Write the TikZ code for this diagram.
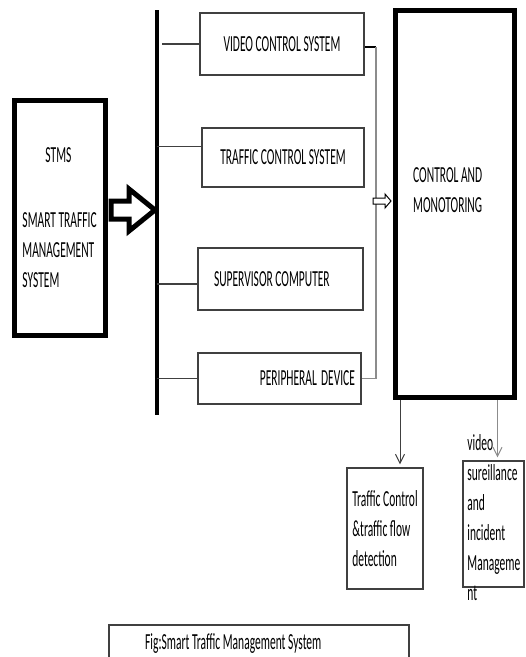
\documentclass[tikz,border=0pt]{standalone}
\usepackage{fontspec}
\setmainfont{Carlito}[FakeStretch=0.5]
\usetikzlibrary{arrows.meta, positioning, calc}
\colorlet{boxline}{black!75}
\colorlet{wireGray}{black!45}

\begin{document}
\begin{tikzpicture}[
    x=1pt, y=-1pt,
    font=\fontsize{23}{30}\selectfont,
    box/.style={draw=boxline, line width=1.5pt, inner sep=0pt},
    heavybox/.style={draw=black, line width=5pt, inner sep=0pt},
    lbl/.style={inner sep=0pt, align=left},
    link/.style={draw=boxline, line width=1.5pt},
    bus/.style={line width=4pt, black},
    wire/.style={draw=wireGray, line width=1.5pt},
    downarrow/.style={line width=1pt, shorten >=3pt,
                      -{Straight Barb[length=9pt, width=9pt, line width=1pt]}},
]
\useasboundingbox (0,0) rectangle (526,657);
\clip (0,0) rectangle (526,657);

% Source
\node[heavybox, minimum width=91, minimum height=235, text width=75,
      inner xsep=8, align=left] (stms) at (60,218)
    {\spaceskip=0pt\hspace*{23pt}STMS\\[35pt]SMART TRAFFIC\\MANAGEMENT\\SYSTEM};

% Bus and subsystems
\coordinate (bustop) at (157,10);
\coordinate (busbot) at (157,415);
\draw[bus] (bustop) -- (busbot);

\node[box, minimum width=164, minimum height=62] (video) at (282,44)
    {VIDEO CONTROL SYSTEM};
\node[box, minimum width=162, minimum height=59] (traffic) at (283,157.5)
    {TRAFFIC CONTROL SYSTEM};
\node[box, minimum width=165, minimum height=62, text width=133,
      inner xsep=16, align=left] (supervisor) at (280.5,279)
    {\spaceskip=0pt SUPERVISOR COMPUTER};
\node[box, minimum width=163, minimum height=51, text width=151,
      inner xsep=6, align=right] (periph) at (279.5,378.5)
    {\spaceskip=0pt PERIPHERAL DEVICE};

% Control
\node[heavybox, minimum width=119, minimum height=387] (control) at (455,204) {};
\node[lbl, anchor=west] (controltxt) at ($(control.west)+(20,-14)$)
    {CONTROL AND\\MONOTORING};

% Outputs
\node[box, minimum width=76, minimum height=121, align=left] (tcflow) at (385,528.5)
    {Traffic Control\\\&traffic flow\\detection};
\node[box, minimum width=61, minimum height=126] (vsurv) at (493.5,524) {};
\node[lbl, anchor=west] (vsurvtxt) at ($(vsurv.west)+(5,-6.5)$)
    {video\\sureillance\\and\\incident\\Manageme\\nt};

% Caption
\node[box, anchor=north west, minimum width=300, minimum height=60] (caption)
    at (108,624) {};
\node[lbl, anchor=base west] (captiontxt) at ($(caption.north west)+(37,25)$)
    {Fig:Smart Traffic Management System};

% STMS -> bus
\coordinate (bigtip) at ($(bustop |- stms.east)+(-2,-8)$);
\draw[line width=5pt, miter limit=10, fill=white] (bigtip) -- ++(-26,-21) -- ++(0,12)
    -- ++(-18,0) -- ++(0,18) -- ++(18,0) -- ++(0,12) -- cycle;

% bus -> subsystems
\draw[link] (video.west) -- ($(video.west -| bustop)+(5,0)$);
\draw[link] ($(traffic.west)+(0,-11)$) coordinate (tw) -- (tw -| bustop);
\draw[link] ($(supervisor.west)+(0,5)$) coordinate (sw) -- (sw -| bustop);
\draw[link] (periph.west) -- (periph.west -| bustop);

% subsystems -> control
\draw[line width=2.5pt] ($(video.east)+(0,3)$) -- ++(11,0) coordinate (vj);
\draw[wire] (vj) -- (vj |- periph.east) -- (periph.east);
\coordinate (smalltip) at ($(control.west)+(-2,-3)$);
\draw[line width=1pt, fill=white] (smalltip) -- ++(-6,-7) -- ++(0,4) -- ++(-12,0)
    -- ++(0,6) -- ++(12,0) -- ++(0,4) -- cycle;

% control -> outputs
\draw[downarrow, boxline] ($(control.south west)+(7,0)$) coordinate (c1) -- (c1 |- tcflow.north);
\draw[downarrow, wireGray] ($(control.south east)+(-19.5,0)$) coordinate (c2) -- (c2 |- vsurv.north);
\end{tikzpicture}
\end{document}
